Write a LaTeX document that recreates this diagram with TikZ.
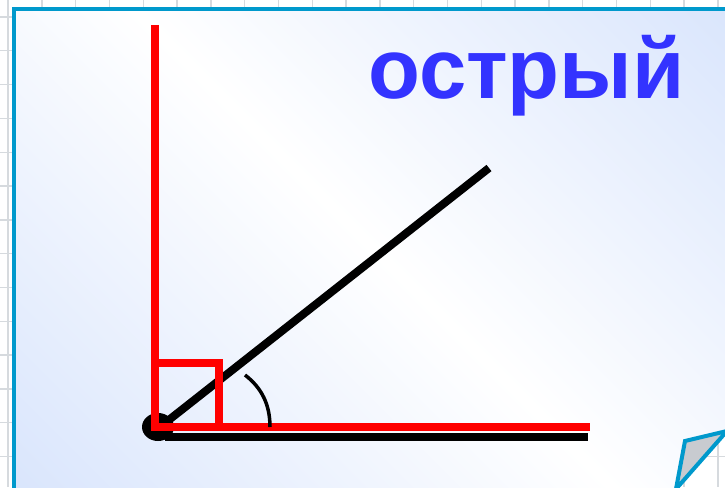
\documentclass[tikz,border=0pt]{standalone}
\usepackage{fontspec}
\setmainfont{Liberation Sans}
\usepackage{tikz}
\usetikzlibrary{calc}

\definecolor{gridgray}{RGB}{214,218,222}
\definecolor{framecyan}{RGB}{0,153,204}
\definecolor{paleblue}{RGB}{214,227,252}
\definecolor{curlgray}{RGB}{200,203,208}
\definecolor{wordblue}{RGB}{51,51,255}

\pgfdeclareverticalshading{slideband}{100bp}{%
  color(0bp)=(paleblue); color(12bp)=(paleblue); color(50bp)=(white);
  color(88bp)=(paleblue); color(100bp)=(paleblue)}

\tikzset{
  gridline/.style={gridgray, line width=1.4pt},
  redline/.style={red, line width=8pt},
  blackline/.style={black, line width=8pt},
}

\begin{document}
\begin{tikzpicture}[x=1pt, y=-1pt]
  \useasboundingbox (0,0) rectangle (725,487);
  % page with grid
  \fill[white] (0,0) rectangle (725,487);
  \foreach \k in {0,...,21} \draw[gridline] ({8+33.8*\k},0) -- ({8+33.8*\k},487);
  \foreach \k in {0,...,14} \draw[gridline] (0,{17+33.8*\k}) -- (725,{17+33.8*\k});
  % slide frame, lower right corner folded
  \coordinate (fold1) at (745,410.9);
  \coordinate (fold2) at (664.3,500);
  \shade[shading=slideband, shading angle=-45]
    (14,9) -- (745,9) -- (fold1) -- (fold2) -- (14,500) -- cycle;
  \draw[framecyan, line width=4pt, line join=miter]
    (14,500) -- (14,9) -- (745,9);
  \draw[framecyan, line width=4pt, line join=miter, fill=curlgray]
    (685,441) -- (727,431) -- (676,489) -- cycle;
  % the word
  \node[anchor=base west, inner sep=0pt, text=wordblue, font=\fontsize{85}{85}\selectfont\bfseries]
    (word) at (368,98) {острый};
  % angle
  \coordinate (vertex) at (158,427);
  \draw[blackline] (165,423) -- (489,168);
  \draw[blackline] (165,437) -- (588,437);
  \fill[black] (vertex) ellipse (16 and 14);
  \draw[redline] (155,25) -- (155,431);
  \draw[redline] (151,427) -- (590,427);
  \draw[redline] (155,363) -- (219,363) -- (219,431);
  \draw[black, line width=3.5pt] (245,375) .. controls (262,388) and (270,405) .. (270,427);
\end{tikzpicture}
\end{document}
